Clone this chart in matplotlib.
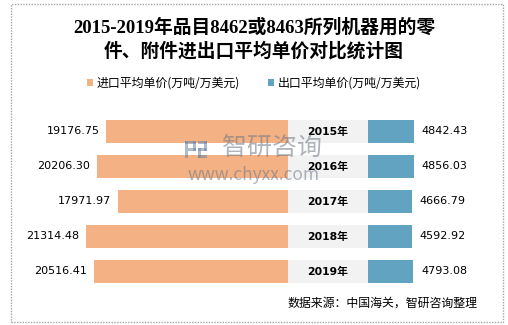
import matplotlib
matplotlib.use("Agg")
import matplotlib.pyplot as plt
from matplotlib.patches import Rectangle

# -----------------------------
#   DATA
# -----------------------------
years = ["2015年", "2016年", "2017年", "2018年", "2019年"]
import_price = [19176.75, 20206.30, 17971.97, 21314.48, 20516.41]
export_price = [4842.43, 4856.03, 4666.79, 4592.92, 4793.08]
import_label = "进口平均单价(万吨/万美元)"
export_label = "出口平均单价(万吨/万美元)"
title = "2015-2019年品目8462或8463所列机器用的零\n件、附件进出口平均单价对比统计图"
source = "数据来源：中国海关，智研咨询整理"

# width of the grey band that holds the year labels (data units)
gap = 8450

W, H = 508, 325
fig = plt.figure(figsize=(W / 100, H / 100), dpi=100)
cjk = ["Noto Sans CJK SC", "DejaVu Sans"]


def px_rect(x0, y0, x1, y1, **kw):
    # rectangle given in pixels from the top-left corner
    return Rectangle((x0 / W, 1 - y1 / H), (x1 - x0) / W, (y1 - y0) / H,
                     transform=fig.transFigure, **kw)


# axes placed in pixel terms
ax_l, ax_r, ax_t, ax_b = 20, 490, 110, 290
ax = fig.add_axes([ax_l / W, 1 - ax_b / H, (ax_r - ax_l) / W, (ax_b - ax_t) / H])
scale = 0.00947  # px per unit
ax.set_xlim(-(288 - ax_l) / scale, (ax_r - 288) / scale)
ax.set_ylim(4.53, -0.614)
ax.axis("off")

ypos = list(range(len(years)))
h = 0.66
b1 = ax.barh(ypos, [-v for v in import_price], height=h, color="#F4B183", label=import_label)
ax.barh(ypos, [gap] * len(years), height=h, color="#F2F2F2")
b2 = ax.barh(ypos, export_price, left=gap, height=h, color="#62A3C2", label=export_label)

for y, yr, vi, ve in zip(ypos, years, import_price, export_price):
    ax.text(-vi - 700, y, f"{vi:.2f}", ha="right", va="center", fontsize=8, color="black")
    ax.text(gap + ve + 800, y, f"{ve:.2f}", ha="left", va="center", fontsize=8, color="black")
    ax.text(gap / 2, y, yr, ha="center", va="center", fontsize=7.8, fontweight="bold",
            family=["DejaVu Sans", "Noto Sans CJK SC"], zorder=5)

# title
fig.text(0.5, 1 - 39 / H, title, ha="center", va="center", fontsize=13.5, fontweight="bold",
         family=["Liberation Serif", "Noto Sans CJK SC"], linespacing=1.35)

# legend
fig.legend(handles=[b1, b2], loc="center", bbox_to_anchor=(0.5, 1 - 83 / H), ncol=2,
           frameon=False, prop={"family": cjk, "size": 8.6}, handlelength=0.5,
           handleheight=0.5, handletextpad=0.35, columnspacing=2.3)

# watermark (logo + text)
wm = dict(facecolor="#6F84A3", edgecolor="none", alpha=0.55)
for r in [(185, 141, 188, 158), (185, 141, 196, 144), (193, 141, 196, 151), (188, 148, 196, 151),
          (198, 141, 207, 144), (204, 141, 207, 151), (198, 148, 207, 151),
          (198, 148, 201, 158), (198, 155, 207, 158)]:
    fig.patches.append(px_rect(*r, **wm))
fig.text(272 / W, 1 - 148 / H, "智研咨询", ha="center", va="center", fontsize=18,
         family=cjk, color="#6E7785", alpha=0.55)
fig.text(254 / W, 1 - 175 / H, "www.chyxx.com", ha="center", va="center", fontsize=12.5,
         family=cjk, color="#6E7785", alpha=0.55)

# source
fig.text(478 / W, 1 - 303 / H, source, ha="right", va="center", fontsize=8.6, family=cjk)

# border
fig.patches.append(px_rect(11, 4, 503, 322, fill=False, edgecolor="#A6A6A6",
                           linewidth=1, linestyle=(0, (1, 1))))

fig.savefig("out.png", dpi=100)
